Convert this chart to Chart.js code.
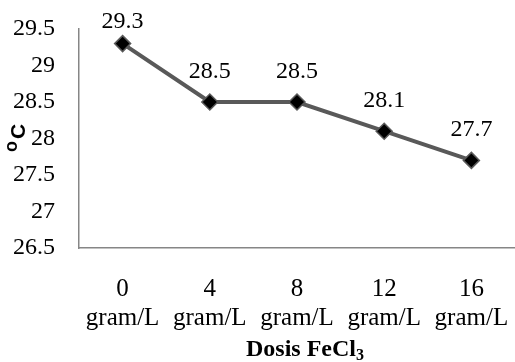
<!DOCTYPE html>
<html>
<head>
<meta charset="utf-8">
<script src="https://cdn.jsdelivr.net/npm/chart.js@4/dist/chart.umd.min.js"></script>
<style>
  html, body { margin: 0; padding: 0; background: #fff; }
  #wrap { width: 515px; height: 362px; position: relative; }
</style>
</head>
<body>
<div id="wrap"><canvas id="myChart"></canvas></div>
<script>
// data
const doses = ['0', '4', '8', '12', '16'];
const unit = 'gram/L';
const suhu = [29.3, 28.5, 28.5, 28.1, 27.7];
const yMin = 26.5;
const yMax = 29.5;
const yStep = 0.5;

const serif = '"Liberation Serif", "Times New Roman", serif';
const sans = '"Liberation Sans", Arial, sans-serif';
const lineGray = '#595959';
const axisGray = '#868686';

// labels above each point
const pointLabels = {
    id: 'pointLabels',
    afterDatasetsDraw(chart) {
        const ctx = chart.ctx;
        const meta = chart.getDatasetMeta(0);
        ctx.save();
        ctx.font = '24px ' + serif;
        ctx.fillStyle = '#000';
        ctx.textAlign = 'center';
        ctx.textBaseline = 'alphabetic';
        meta.data.forEach((pt, i) => {
            const y = Math.max(pt.y - 24, chart.chartArea.top - 1);
            ctx.fillText(String(suhu[i]), pt.x, y);
        });
        ctx.restore();
    }
};

// axis titles with sub/superscript
const axisTitles = {
    id: 'axisTitles',
    afterDraw(chart) {
        const ctx = chart.ctx;
        const area = chart.chartArea;
        ctx.save();

        // y title: "oC" rotated
        ctx.translate(25, 152);
        ctx.rotate(-Math.PI / 2);
        ctx.fillStyle = '#000';
        ctx.textBaseline = 'alphabetic';
        ctx.textAlign = 'left';
        ctx.font = 'bold 18px ' + sans;
        ctx.fillText('o', 0, -8);
        const ow = ctx.measureText('o').width;
        ctx.font = 'bold 21px ' + sans;
        ctx.fillText('C', ow + 2, 0);
        ctx.restore();

        // x title: "Dosis FeCl3"
        ctx.save();
        ctx.fillStyle = '#000';
        ctx.textBaseline = 'alphabetic';
        ctx.textAlign = 'left';
        const main = 'Dosis FeCl';
        ctx.font = 'bold 24px ' + serif;
        const mw = ctx.measureText(main).width;
        ctx.font = 'bold 16px ' + serif;
        const sw = ctx.measureText('3').width;
        const cx = (area.left + area.right) / 2 + 8;
        const x0 = cx - (mw + sw) / 2;
        ctx.font = 'bold 24px ' + serif;
        ctx.fillText(main, x0, 356);
        ctx.font = 'bold 16px ' + serif;
        ctx.fillText('3', x0 + mw, 360);
        ctx.restore();
    }
};

const ctx = document.getElementById('myChart').getContext('2d');
const myChart = new Chart(ctx, {
    type: 'line',
    data: {
        labels: doses.map(d => [d, unit]),
        datasets: [{
            data: suhu,
            borderColor: lineGray,
            borderWidth: 4,
            pointStyle: 'rectRot',
            pointRadius: 8,
            pointBackgroundColor: '#000',
            pointBorderColor: lineGray,
            pointBorderWidth: 1.5,
            tension: 0
        }]
    },
    options: {
        responsive: true,
        maintainAspectRatio: false,
        animation: false,
        layout: {
            autoPadding: false,
            padding: { left: 12, top: 29, right: 0, bottom: 24 }
        },
        plugins: {
            legend: { display: false },
            tooltip: { enabled: false }
        },
        scales: {
            x: {
                offset: true,
                grid: { display: false, drawTicks: false },
                border: { display: true, color: axisGray, width: 1.5 },
                ticks: {
                    color: '#000',
                    padding: 27,
                    maxRotation: 0,
                    autoSkip: false,
                    font: { family: serif, size: 25, lineHeight: 1.17 }
                },
                afterFit: s => {
                    s.height = 90;
                    s.paddingLeft = 0;
                    s.paddingRight = 0;
                }
            },
            y: {
                min: yMin,
                max: yMax,
                grid: { display: false, drawTicks: false },
                border: { display: true, color: axisGray, width: 1.5 },
                ticks: {
                    stepSize: yStep,
                    color: '#000',
                    padding: 24,
                    font: { family: serif, size: 24 },
                    callback: v => String(Number(v.toFixed(1)))
                },
                afterFit: s => {
                    s.width = 67;
                    s.paddingTop = 0;
                    s.paddingBottom = 0;
                }
            }
        }
    },
    plugins: [pointLabels, axisTitles]
});
</script>
</body>
</html>
